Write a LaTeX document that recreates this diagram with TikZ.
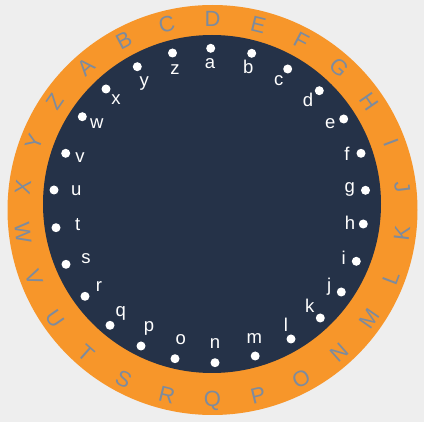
\documentclass[tikz,border=0pt]{standalone}
\usepackage{fontspec}
\setmainfont{Liberation Sans}
\definecolor{bg}{HTML}{EEEEEE}
\definecolor{ring}{HTML}{F7962A}
\definecolor{navy}{HTML}{253248}
\definecolor{outerltr}{HTML}{7D8B9E}
\begin{document}
\begin{tikzpicture}[x=1pt,y=-1pt,
  outerletter/.style={text=outerltr,font=\fontsize{22}{22}\selectfont,inner sep=0pt},
  innerletter/.style={text=white,font=\fontsize{18.5}{19}\selectfont,inner sep=0pt},
  whitedot/.style={circle,fill=white,minimum size=9pt,inner sep=0pt}]
\fill[bg] (0,0) rectangle (424,422);
\useasboundingbox (0,0) rectangle (424,422);
\node[circle,fill=ring,minimum size=410pt,inner sep=0pt] (ringdisk) at (212.5,210) {};
\node[circle,fill=navy,minimum size=338pt,inner sep=0pt] (innerdisk) at (212,204) {};
\foreach \L [count=\i from 0] in {A,B,C,D,E,F,G,H,I,J,K,L,M,N,O,P,Q,R,S,T,U,V,W,X,Y,Z} {
  \pgfmathsetmacro\th{90-(\i-3)*360/26}
  \pgfmathsetmacro\rot{ifthenelse(sin(\th)>=0,\th-90,\th+90)}
  \node[outerletter,rotate=\rot] (O\L) at ({212.5+191*cos(\th)},{210-191*sin(\th)}) {\L};
}
\foreach \l/\dx/\dy/\lx/\ly in {
  a/210.7/48.3/210/63.3,
  b/251.7/53.3/248.3/67.3,
  c/287.7/69/278.7/80.7,
  d/319.3/90.7/308/100,
  e/343.7/119/330.3/123.3,
  f/361/153.3/347/154.3,
  g/365.5/190.3/349.7/189.7,
  h/363.3/224/350/222.3,
  i/356.3/261.3/343.7/258,
  j/341.3/292/329.3/287,
  k/320.3/318/309.7/306,
  l/291/339/286/324.7,
  m/255.2/356/254.3/338.5,
  n/215/362.7/215/344,
  o/175/358.7/180.7/339.7,
  p/141/346/149/328.7,
  q/110/325.3/120.7/313.7,
  r/85/296.3/99/287,
  s/66/264.3/86/258.7,
  t/56/227.7/77.7/224.7,
  u/54/190/76.3/190.3,
  v/65.7/153.3/80/157.7,
  w/82.3/116.7/96.7/123.3,
  x/106/89/116/100,
  y/137.3/66.7/144.3/83.3,
  z/172.5/53/175/69.3} {
  \node[whitedot] (d\l) at (\dx,\dy) {};
  \node[innerletter] (t\l) at (\lx,\ly) {\l};
}
\end{tikzpicture}
\end{document}
